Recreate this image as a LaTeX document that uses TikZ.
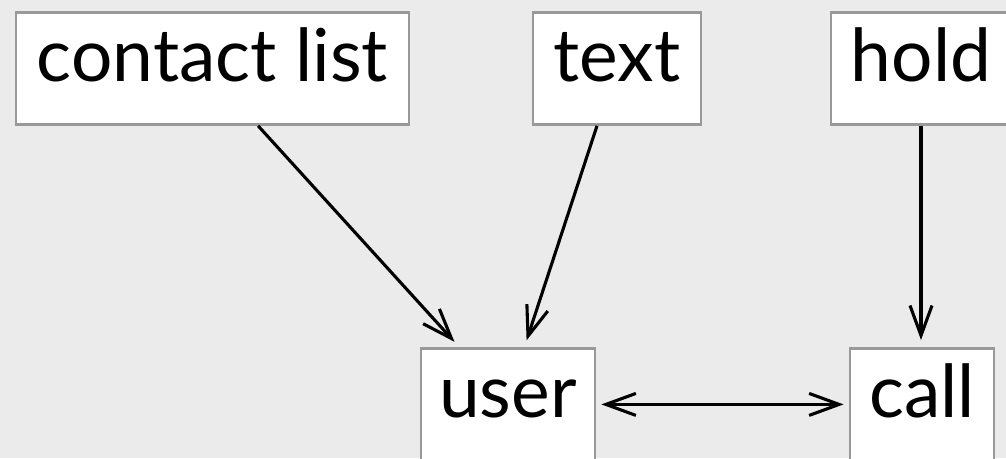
\documentclass[tikz,border=0pt]{standalone}
\usepackage{fontspec}
\setmainfont{Lato}
\usetikzlibrary{positioning,arrows.meta}
\definecolor{bgcol}{HTML}{EBEBEB}
\definecolor{boxline}{HTML}{999999}

\begin{document}
\begin{tikzpicture}[
  every node/.style={font=\fontsize{52}{56}\selectfont},
  box/.style ={draw=boxline, line width=2pt, fill=white, inner sep=0pt, anchor=north,
               minimum height=2.8cm, text height=1.725cm, text depth=1.075cm},
  flow/.style ={-{Straight Barb[length=7.5mm, width=5.5mm]}, line width=2.2pt, shorten >=1.75mm},
  both/.style ={{Straight Barb[length=7.5mm, width=5.5mm]}-{Straight Barb[length=7.5mm, width=5.5mm]}, line width=2.2pt, shorten >=1.25mm, shorten <=1.25mm},
]
\fill[bgcol] (0,0) rectangle (25.15,-11.45);
\useasboundingbox (0,0) rectangle (25.15,-11.45);

\node[box, minimum width=9.825cm] (contact) at (5.3125,-0.275) {contact list};
\node[box, minimum width=4.2cm]   (text)    at (15.425,-0.275) {text};
\node[box, minimum width=4.5cm]   (hold)    at (23.025,-0.275) {hold};
\node[box, minimum width=4.35cm]  (user)    at (12.7,-8.675)   {user};
\node[box, minimum width=3.6cm]   (call)    at (23.05,-8.675)  {call};

\draw[flow] ([xshift=1.14cm]contact.south) -- ([xshift=-1.22cm]user.north);
\draw[flow] ([xshift=-0.5cm]text.south) -- ([xshift=0.41cm]user.north);
\draw[flow] (hold.south) -- (hold.south |- call.north);

\draw[both] (user.east) -- (call.west);

\end{tikzpicture}
\end{document}
